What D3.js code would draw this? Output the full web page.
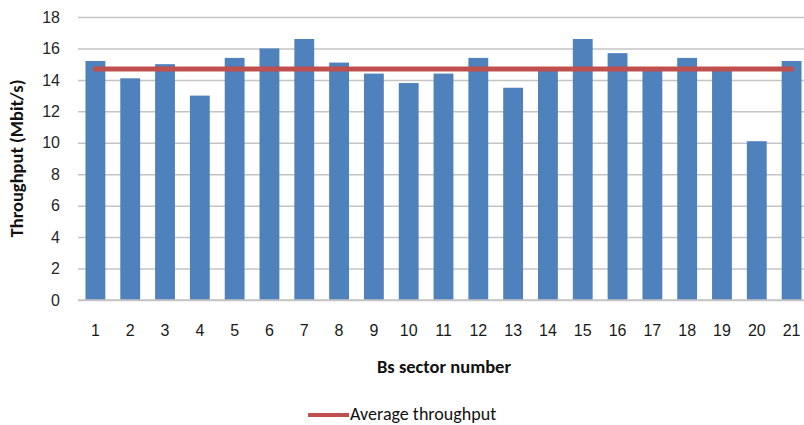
<!DOCTYPE html>
<html>
<head>
<meta charset="utf-8">
<script src="https://cdn.jsdelivr.net/npm/d3@7"></script>
<style>
  html, body { margin: 0; padding: 0; background: #fff; }
  svg { display: block; font-family: Carlito, Lato, "Open Sans", sans-serif; }
</style>
</head>
<body>
<svg id="chart" width="804" height="425"></svg>
<script>
// Throughput per base-station sector (Mbit/s)
const sectors = ["1","2","3","4","5","6","7","8","9","10","11","12","13","14","15","16","17","18","19","20","21"];
const throughput = [15.2, 14.1, 15.0, 13.0, 15.4, 16.0, 16.6, 15.1, 14.4, 13.8, 14.4,
                    15.4, 13.5, 14.7, 16.6, 15.7, 14.6, 15.4, 14.6, 10.1, 15.2];
const averageThroughput = [14.7, 14.7, 14.7, 14.7, 14.7, 14.7, 14.7, 14.7, 14.7, 14.7, 14.7,
                           14.7, 14.7, 14.7, 14.7, 14.7, 14.7, 14.7, 14.7, 14.7, 14.7];
const yTicks = [0, 2, 4, 6, 8, 10, 12, 14, 16, 18];

const svg = d3.select("#chart");
const plot = { left: 78, right: 809, top: 17, bottom: 300 };

const x = d3.scaleBand()
  .domain(sectors)
  .range([plot.left, plot.right])
  .paddingInner(0.43)
  .paddingOuter(0.215);

const y = d3.scaleLinear()
  .domain([0, 18])
  .range([plot.bottom, plot.top]);

// Horizontal gridlines with value labels
const yAxis = d3.axisLeft(y)
  .tickValues(yTicks)
  .tickSize(-(plot.right - plot.left))
  .tickPadding(18);

const gy = svg.append("g")
  .attr("transform", `translate(${plot.left},0)`)
  .call(yAxis);
gy.select(".domain").remove();
gy.selectAll(".tick line")
  .attr("stroke", "#c4c4c4")
  .attr("stroke-width", 1.5);
gy.selectAll(".tick text")
  .attr("fill", "#262626")
  .attr("font-size", 16)
  .attr("text-anchor", "end");

// Bars
svg.append("g")
  .selectAll("rect")
  .data(throughput)
  .join("rect")
  .attr("x", (d, i) => x(sectors[i]))
  .attr("width", x.bandwidth())
  .attr("y", d => y(d))
  .attr("height", d => y(0) - y(d))
  .attr("fill", "#4f81bd");

// Category axis
const xAxis = d3.axisBottom(x).tickSize(0);
const gx = svg.append("g")
  .attr("transform", `translate(0,${plot.bottom})`)
  .call(xAxis);
gx.select(".domain").remove();
gx.selectAll(".tick text")
  .attr("fill", "#1a1a1a")
  .attr("font-size", 16)
  .attr("y", 36)
  .attr("dy", 0);

svg.append("line")
  .attr("x1", plot.left).attr("x2", plot.right)
  .attr("y1", y(0)).attr("y2", y(0))
  .attr("stroke", "#c4c4c4").attr("stroke-width", 1.5);

// Average throughput line through the bar centres
const line = d3.line()
  .x((d, i) => x(sectors[i]) + x.bandwidth() / 2)
  .y(d => y(d));

svg.append("path")
  .datum(averageThroughput)
  .attr("d", line)
  .attr("fill", "none")
  .attr("stroke", "#c0504d")
  .attr("stroke-width", 5)
  .attr("stroke-linecap", "round");

// Axis titles
svg.append("text")
  .attr("transform", `translate(23,${(plot.top + plot.bottom) / 2}) rotate(-90)`)
  .attr("text-anchor", "middle")
  .attr("font-size", 18.5)
  .attr("font-weight", "bold")
  .attr("fill", "#111")
  .text("Throughput (Mbit/s)");

svg.append("text")
  .attr("x", 444)
  .attr("y", 373)
  .attr("text-anchor", "middle")
  .attr("font-size", 18.5)
  .attr("font-weight", "bold")
  .attr("fill", "#111")
  .text("Bs sector number");

// Legend
const legend = svg.append("g").attr("transform", "translate(308,415)");
legend.append("line")
  .attr("x1", 0).attr("x2", 41)
  .attr("y1", 0).attr("y2", 0)
  .attr("stroke", "#c0504d")
  .attr("stroke-width", 4);
legend.append("text")
  .attr("x", 42)
  .attr("y", 5)
  .attr("font-size", 18)
  .attr("fill", "#111")
  .text("Average throughput");
</script>
</body>
</html>
